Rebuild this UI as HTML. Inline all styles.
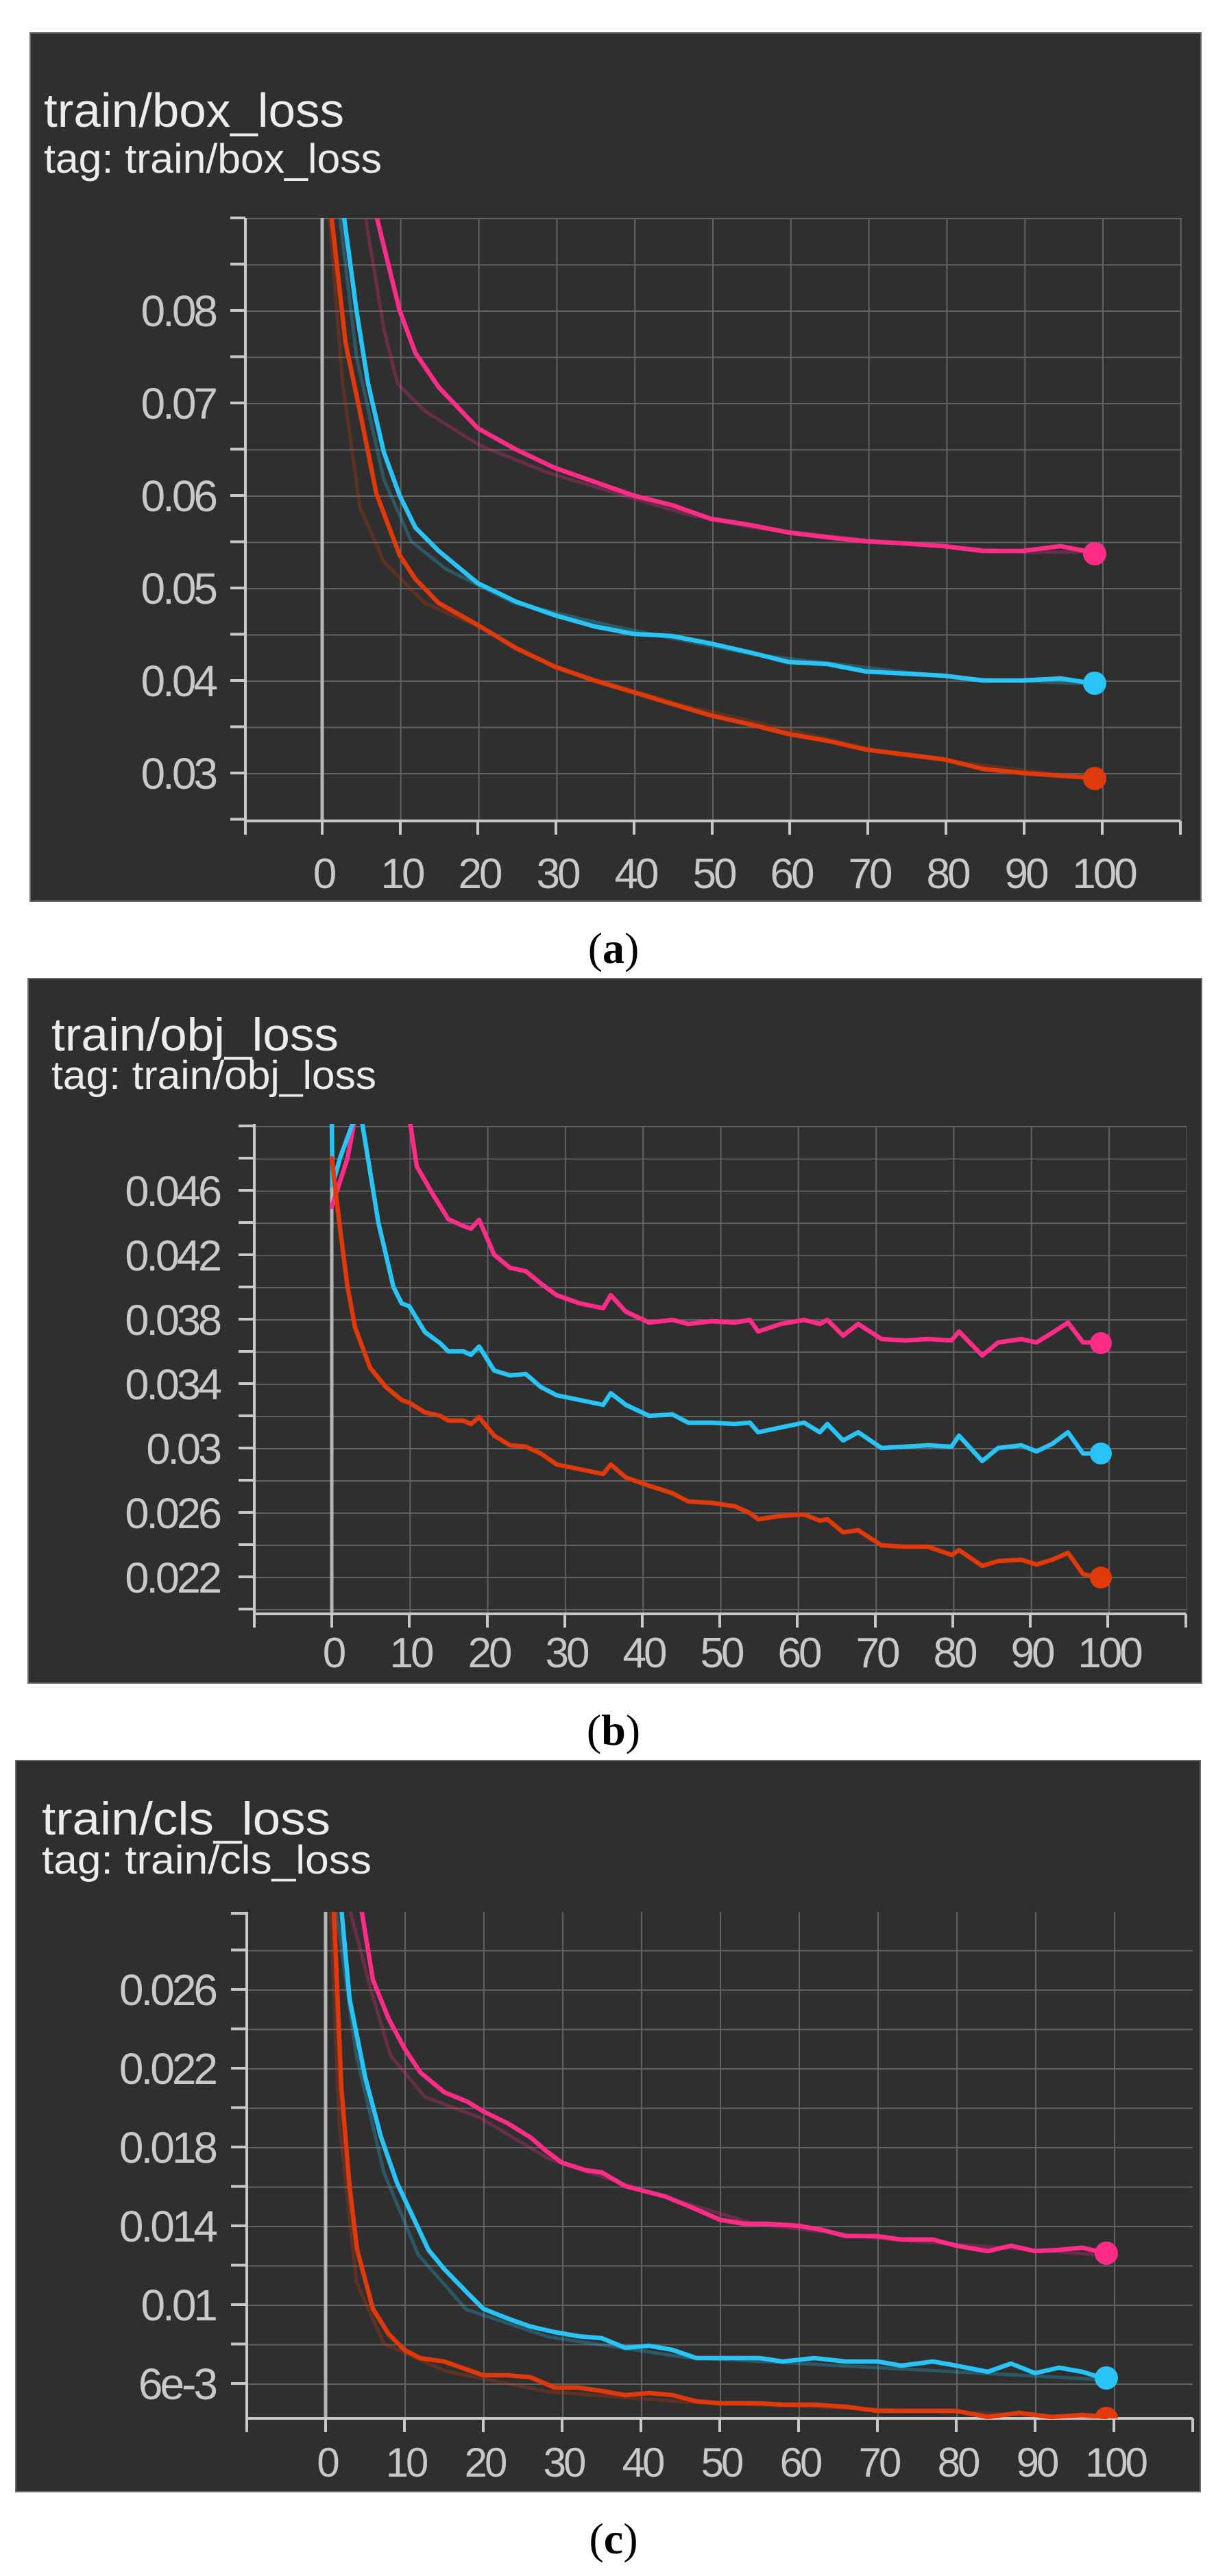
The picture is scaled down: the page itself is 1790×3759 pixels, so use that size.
<!DOCTYPE html>
<html><head><meta charset="utf-8"><style>
html,body{margin:0;padding:0;background:#fff;}
svg{display:block;}
.t{font-family:"Liberation Sans",sans-serif;fill:#ececec;}
.lab{font-family:"Liberation Sans",sans-serif;fill:#c9c9c9;letter-spacing:-4px;}
.cap{font-family:"Liberation Serif",serif;fill:#000;font-size:64px;}
.ax{stroke:#c8c8c8;stroke-width:4;fill:none;}
.s{fill:none;stroke-width:6.5;stroke-linejoin:round;stroke-linecap:round;}
.f{fill:none;stroke-width:5;stroke-linejoin:round;opacity:.28;}
</style></head><body>
<svg width="1790" height="3759" viewBox="0 0 1790 3759" xmlns="http://www.w3.org/2000/svg">
<defs>
<pattern id="ga" patternUnits="userSpaceOnUse" x="356.2" y="318" width="113.8" height="67.5"><path d="M0 0V67.5M0 0H113.8" stroke="#626262" stroke-width="4" fill="none"/></pattern>
<pattern id="gb" patternUnits="userSpaceOnUse" x="370.7" y="1643" width="113.3" height="47"><path d="M0 0V47M0 0H113.3" stroke="#626262" stroke-width="4" fill="none"/></pattern>
<pattern id="gc" patternUnits="userSpaceOnUse" x="360" y="2788" width="115" height="57.5"><path d="M0 0V57.5M0 0H115" stroke="#626262" stroke-width="4" fill="none"/></pattern>
<clipPath id="ca"><rect x="358" y="318" width="1370" height="882"/></clipPath>
<clipPath id="cb"><rect x="371" y="1640" width="1362" height="716"/></clipPath>
<clipPath id="cc"><rect x="360" y="2790" width="1385" height="740"/></clipPath>
</defs>

<!-- Panel a -->
<rect x="44" y="48" width="1708" height="1267" fill="#2f2f2f" stroke="#6a6a6a" stroke-width="2"/>
<text class="t" x="64" y="185" font-size="70" textLength="438" lengthAdjust="spacingAndGlyphs">train/box_loss</text>
<text class="t" x="64" y="252" font-size="60" textLength="493" lengthAdjust="spacingAndGlyphs">tag: train/box_loss</text>
<rect x="358" y="318" width="1366" height="880" fill="url(#ga)"/>
<line x1="470" y1="318" x2="470" y2="1198" stroke="#b5b5b5" stroke-width="5"/>
<path class="ax" d="M358 318V1198H1722M358 318H336M358 385.5H336M358 453H336M358 520.5H336M358 588H336M358 655.5H336M358 723H336M358 790.5H336M358 858H336M358 925.5H336M358 993H336M358 1060.5H336M358 1128H336M358 1195.5H336M358 1198V1218M470 1198V1218M584 1198V1218M697 1198V1218M811 1198V1218M925 1198V1218M1039 1198V1218M1152 1198V1218M1266 1198V1218M1380 1198V1218M1494 1198V1218M1608 1198V1218M1722 1198V1218"/>
<g class="lab" font-size="64" text-anchor="end">
<text x="314" y="476">0.08</text><text x="314" y="611">0.07</text><text x="314" y="746">0.06</text><text x="314" y="881">0.05</text><text x="314" y="1016">0.04</text><text x="314" y="1151">0.03</text>
</g>
<g class="lab" font-size="62" text-anchor="middle">
<text x="472" y="1296">0</text><text x="586" y="1296">10</text><text x="699" y="1296">20</text><text x="813" y="1296">30</text><text x="927" y="1296">40</text><text x="1041" y="1296">50</text><text x="1154" y="1296">60</text><text x="1268" y="1296">70</text><text x="1382" y="1296">80</text><text x="1496" y="1296">90</text><text x="1610" y="1296">100</text>
</g>
<g clip-path="url(#ca)">
<polyline class="f" stroke="#ff2d88" points="532,310 560,480 580,560 620,600 700,650 800,690 900,720 1000,750 1100,770 1300,792 1500,806 1590,805"/>
<polyline class="s" stroke="#ff2d88" points="548,310 565,380 583,453 606,515 640,565 697,625 753,656 810,683 867,703 924,723 980,737 1037,757 1094,766 1150,777 1207,784 1264,790 1321,793 1377,797 1434,804 1491,804 1547,797 1593,806"/>
<polyline class="f" stroke="#29c4f5" points="495,310 520,520 560,700 600,790 650,830 750,880 900,915 1100,955 1400,990 1590,998"/>
<polyline class="s" stroke="#29c4f5" points="501,310 520,453 537,560 560,660 583,723 606,770 640,804 697,851 753,878 810,898 867,914 924,925 980,928 1037,939 1094,952 1150,966 1207,969 1264,980 1321,983 1377,986 1434,993 1491,993 1547,990 1593,997"/>
<polyline class="f" stroke="#e03a0c" points="480,310 500,560 525,740 560,820 620,880 700,915 810,975 1000,1030 1300,1100 1590,1136"/>
<polyline class="s" stroke="#e03a0c" points="483,310 504,500 527,610 549,720 583,810 606,845 640,880 697,912 753,946 810,973 867,993 924,1010 980,1027 1037,1044 1094,1057 1150,1071 1207,1081 1264,1094 1321,1101 1377,1108 1434,1122 1491,1128 1547,1132 1593,1135"/>
</g>
<circle cx="1597" cy="808" r="17" fill="#ff2d88"/>
<circle cx="1597" cy="997" r="17" fill="#29c4f5"/>
<circle cx="1597" cy="1136" r="17" fill="#e03a0c"/>
<text class="cap" x="895" y="1405" text-anchor="middle">(<tspan font-weight="bold">a</tspan>)</text>

<!-- Panel b -->
<rect x="41" y="1428" width="1712" height="1028" fill="#2f2f2f" stroke="#6a6a6a" stroke-width="2"/>
<text class="t" x="75" y="1533" font-size="68" textLength="419" lengthAdjust="spacingAndGlyphs">train/obj_loss</text>
<text class="t" x="75" y="1589" font-size="58" textLength="474" lengthAdjust="spacingAndGlyphs">tag: train/obj_loss</text>
<rect x="371" y="1643" width="1360" height="712" fill="url(#gb)"/>
<line x1="484" y1="1640" x2="484" y2="2355" stroke="#b5b5b5" stroke-width="5"/>
<path class="ax" d="M371 1640V2355H1730M371 1643H348M371 1690H348M371 1737H348M371 1784H348M371 1831H348M371 1878H348M371 1925H348M371 1972H348M371 2019H348M371 2066H348M371 2113H348M371 2160H348M371 2207H348M371 2254H348M371 2301H348M371 2348H348M371 2355V2375M484 2355V2375M597 2355V2375M711 2355V2375M824 2355V2375M937 2355V2375M1050 2355V2375M1163 2355V2375M1277 2355V2375M1390 2355V2375M1503 2355V2375M1616 2355V2375M1730 2355V2375"/>
<g class="lab" font-size="63" text-anchor="end">
<text x="320" y="1760">0.046</text><text x="320" y="1854">0.042</text><text x="320" y="1948">0.038</text><text x="320" y="2042">0.034</text><text x="320" y="2136">0.03</text><text x="320" y="2230">0.026</text><text x="320" y="2324">0.022</text>
</g>
<g class="lab" font-size="62" text-anchor="middle">
<text x="486" y="2433">0</text><text x="599" y="2433">10</text><text x="713" y="2433">20</text><text x="826" y="2433">30</text><text x="939" y="2433">40</text><text x="1052" y="2433">50</text><text x="1165" y="2433">60</text><text x="1279" y="2433">70</text><text x="1392" y="2433">80</text><text x="1505" y="2433">90</text><text x="1618" y="2433">100</text>
</g>
<g clip-path="url(#cb)">
<polyline class="s" stroke="#ff2d88" points="484,1761 507,1690 518,1630"/>
<polyline class="s" stroke="#ff2d88" points="597,1630 608,1702 631,1742 654,1779 676,1789 687,1793 699,1780 721,1831 744,1850 767,1855 789,1873 812,1890 846,1902 880,1909 891,1890 913,1914 947,1930 981,1926 1004,1932 1038,1928 1072,1930 1094,1926 1106,1943 1139,1932 1173,1926 1196,1932 1207,1926 1230,1949 1252,1932 1286,1954 1320,1956 1354,1954 1388,1956 1399,1943 1433,1978 1456,1959 1490,1954 1512,1959 1535,1945 1558,1930 1580,1959 1603,1959"/>
<polyline class="s" stroke="#29c4f5" points="484,1630 485,1730 496,1690 518,1630"/>
<polyline class="s" stroke="#29c4f5" points="527,1630 552,1784 574,1878 586,1902 597,1906 620,1944 642,1960 654,1972 676,1972 687,1977 699,1965 721,2000 744,2007 767,2005 789,2024 812,2036 846,2043 880,2050 891,2033 913,2050 947,2066 981,2064 1004,2076 1038,2076 1072,2078 1094,2076 1106,2090 1139,2083 1173,2076 1196,2090 1207,2078 1230,2102 1252,2090 1286,2113 1320,2111 1354,2109 1388,2111 1399,2095 1433,2132 1456,2113 1490,2109 1512,2118 1535,2107 1558,2090 1580,2121 1603,2121"/>
<polyline class="s" stroke="#e03a0c" points="484,1690 495,1784 507,1878 518,1937 540,1996 563,2024 586,2043 597,2047 620,2061 642,2066 654,2073 676,2073 687,2078 699,2068 721,2095 744,2109 767,2111 789,2121 812,2137 846,2144 880,2151 891,2137 913,2156 947,2168 981,2179 1004,2191 1038,2193 1072,2198 1094,2208 1106,2217 1139,2212 1173,2210 1196,2219 1207,2217 1230,2236 1252,2233 1286,2255 1320,2257 1354,2257 1388,2269 1399,2262 1433,2285 1456,2278 1490,2276 1512,2283 1535,2276 1558,2266 1580,2297 1603,2302"/>
</g>
<circle cx="1606" cy="1960" r="16" fill="#ff2d88"/>
<circle cx="1606" cy="2121" r="16" fill="#29c4f5"/>
<circle cx="1606" cy="2302" r="16" fill="#e03a0c"/>
<text class="cap" x="895" y="2546" text-anchor="middle">(<tspan font-weight="bold">b</tspan>)</text>

<!-- Panel c -->
<rect x="23" y="2569" width="1728" height="1067" fill="#2f2f2f" stroke="#6a6a6a" stroke-width="2"/>
<text class="t" x="61" y="2677" font-size="68" textLength="421" lengthAdjust="spacingAndGlyphs">train/cls_loss</text>
<text class="t" x="61" y="2734" font-size="58" textLength="481" lengthAdjust="spacingAndGlyphs">tag: train/cls_loss</text>
<rect x="360" y="2790" width="1380" height="739" fill="url(#gc)"/>
<line x1="475" y1="2790" x2="475" y2="3529" stroke="#b5b5b5" stroke-width="5"/>
<path class="ax" d="M360 2790V3529H1740M360 2792H337M360 2845.5H337M360 2903H337M360 2960.5H337M360 3018H337M360 3075.5H337M360 3133H337M360 3190.5H337M360 3248H337M360 3305.5H337M360 3363H337M360 3420.5H337M360 3478H337M360 3529V3549M475 3529V3549M590 3529V3549M705 3529V3549M820 3529V3549M935 3529V3549M1050 3529V3549M1165 3529V3549M1280 3529V3549M1395 3529V3549M1510 3529V3549M1625 3529V3549M1740 3529V3549"/>
<g class="lab" font-size="64" text-anchor="end">
<text x="314" y="2926">0.026</text><text x="314" y="3041">0.022</text><text x="314" y="3156">0.018</text><text x="314" y="3271">0.014</text><text x="314" y="3386">0.01</text><text x="314" y="3501">6e-3</text>
</g>
<g class="lab" font-size="60" text-anchor="middle">
<text x="477" y="3614">0</text><text x="592" y="3614">10</text><text x="707" y="3614">20</text><text x="822" y="3614">30</text><text x="937" y="3614">40</text><text x="1052" y="3614">50</text><text x="1167" y="3614">60</text><text x="1282" y="3614">70</text><text x="1397" y="3614">80</text><text x="1512" y="3614">90</text><text x="1627" y="3614">100</text>
</g>
<g clip-path="url(#cc)">
<polyline class="f" stroke="#ff2d88" points="510,2785 540,2900 570,3000 620,3060 700,3090 800,3150 950,3200 1100,3245 1300,3268 1600,3290"/>
<polyline class="s" stroke="#ff2d88" points="527,2785 544,2889 567,2946 590,2989 613,3024 648,3053 682,3067 705,3081 740,3098 774,3119 797,3139 820,3156 855,3167 878,3170 912,3190 935,3196 970,3205 1004,3219 1050,3239 1085,3245 1119,3245 1165,3248 1200,3254 1234,3263 1280,3263 1315,3268 1361,3268 1395,3277 1441,3285 1475,3277 1510,3285 1545,3283 1579,3280 1614,3288"/>
<polyline class="f" stroke="#29c4f5" points="490,2785 520,3000 560,3170 610,3290 680,3370 800,3410 1000,3440 1600,3472"/>
<polyline class="s" stroke="#29c4f5" points="498,2785 510,2917 533,3032 556,3119 579,3185 602,3234 625,3283 648,3311 682,3346 705,3369 740,3383 774,3395 809,3403 843,3409 878,3412 912,3426 947,3423 981,3429 1016,3441 1050,3441 1108,3441 1142,3446 1188,3441 1234,3446 1280,3446 1315,3452 1361,3446 1395,3452 1441,3461 1475,3449 1510,3463 1545,3455 1579,3461 1614,3472"/>
<polyline class="f" stroke="#e03a0c" points="482,2785 495,3100 520,3330 560,3420 650,3460 800,3490 1000,3505 1600,3528"/>
<polyline class="s" stroke="#e03a0c" points="487,2785 498,3047 510,3191 521,3283 544,3369 567,3406 590,3429 613,3441 648,3446 682,3458 705,3466 740,3466 774,3469 809,3484 843,3484 878,3489 912,3495 947,3492 981,3495 1016,3504 1050,3507 1108,3507 1142,3509 1188,3509 1234,3512 1280,3518 1338,3518 1395,3518 1441,3527 1487,3521 1533,3527 1579,3524 1614,3527"/>
</g>
<circle cx="1614" cy="3288" r="17" fill="#ff2d88"/>
<circle cx="1614" cy="3470" r="17" fill="#29c4f5"/>
<path d="M1597 3529a17 17 0 0 1 34 0z" fill="#e03a0c"/>
<text class="cap" x="895" y="3726" text-anchor="middle">(<tspan font-weight="bold">c</tspan>)</text>
</svg>
</body></html>
